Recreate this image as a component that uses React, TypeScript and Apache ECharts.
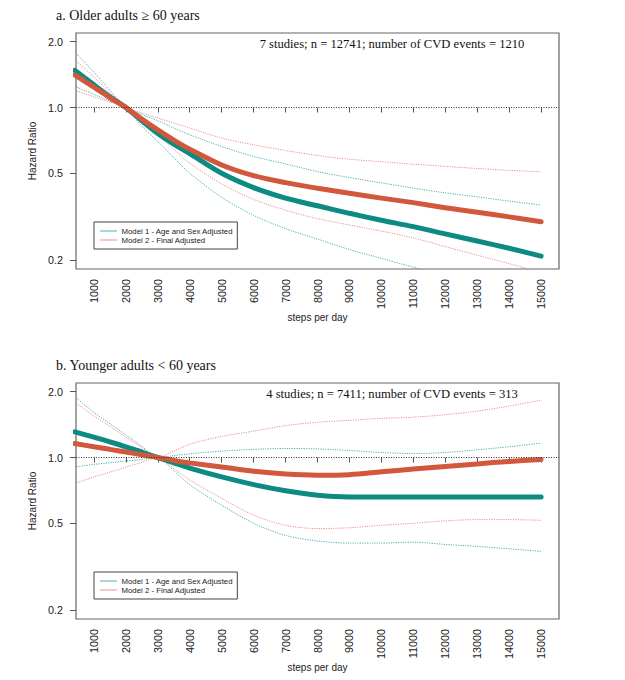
import React, { useEffect, useRef } from "react";
import * as echarts from "echarts";

// steps per day at which the curves are sampled
const STEPS = [400, 1000, 1500, 2000, 2500, 3000, 3500, 4000, 5000, 6000, 7000, 8000, 9000, 10000, 11000, 12000, 13000, 14000, 15000];

// a. Older adults >= 60 years (hazard ratios)
const olderM1 = [1.48, 1.27, 1.12, 1.0, 0.87, 0.76, 0.68, 0.615, 0.5, 0.43, 0.385, 0.355, 0.328, 0.305, 0.285, 0.264, 0.245, 0.227, 0.209];
const olderM1Upper = [1.8, 1.45, 1.2, 1.0, 0.93, 0.87, 0.805, 0.75, 0.663, 0.597, 0.552, 0.509, 0.478, 0.452, 0.428, 0.407, 0.39, 0.373, 0.358];
const olderM1Lower = [1.25, 1.15, 1.07, 1.0, 0.82, 0.7, 0.59, 0.5, 0.388, 0.321, 0.279, 0.25, 0.224, 0.204, 0.186, 0.17, 0.156, 0.145, 0.135];
const olderM2 = [1.41, 1.24, 1.11, 1.0, 0.885, 0.79, 0.71, 0.645, 0.546, 0.488, 0.453, 0.427, 0.405, 0.385, 0.367, 0.348, 0.332, 0.316, 0.3];
const olderM2Upper = [1.66, 1.38, 1.17, 1.0, 0.945, 0.895, 0.85, 0.806, 0.725, 0.675, 0.636, 0.603, 0.58, 0.565, 0.55, 0.538, 0.526, 0.516, 0.508];
const olderM2Lower = [1.2, 1.12, 1.06, 1.0, 0.855, 0.745, 0.645, 0.556, 0.447, 0.38, 0.339, 0.31, 0.29, 0.272, 0.253, 0.231, 0.211, 0.193, 0.176];

// b. Younger adults < 60 years (hazard ratios)
const youngerM1 = [1.31, 1.24, 1.18, 1.12, 1.06, 1.0, 0.946, 0.895, 0.815, 0.752, 0.705, 0.672, 0.66, 0.66, 0.66, 0.66, 0.66, 0.66, 0.66];
const youngerM1Upper = [1.9, 1.61, 1.43, 1.27, 1.125, 1.0, 1.02, 1.04, 1.07, 1.09, 1.1, 1.095, 1.077, 1.054, 1.043, 1.054, 1.085, 1.12, 1.165];
const youngerM1Lower = [0.905, 0.93, 0.946, 0.964, 0.98, 1.0, 0.87, 0.75, 0.605, 0.5, 0.44, 0.415, 0.406, 0.406, 0.41, 0.4, 0.392, 0.382, 0.372];
const youngerM2 = [1.16, 1.12, 1.09, 1.06, 1.03, 1.0, 0.97, 0.945, 0.905, 0.865, 0.84, 0.83, 0.835, 0.86, 0.885, 0.91, 0.935, 0.96, 0.98];
const youngerM2Upper = [1.79, 1.55, 1.39, 1.24, 1.11, 1.0, 1.07, 1.15, 1.25, 1.32, 1.4, 1.45, 1.48, 1.51, 1.53, 1.57, 1.63, 1.72, 1.83];
const youngerM2Lower = [0.76, 0.815, 0.857, 0.903, 0.95, 1.0, 0.89, 0.79, 0.65, 0.545, 0.49, 0.473, 0.477, 0.49, 0.5, 0.513, 0.52, 0.52, 0.516];

const X_TICKS = [1000, 2000, 3000, 4000, 5000, 6000, 7000, 8000, 9000, 10000, 11000, 12000, 13000, 14000, 15000];
const Y_TICKS = [0.2, 0.5, 1.0, 2.0];

const M1 = "Model 1 - Age and Sex Adjusted";
const M2 = "Model 2 - Final Adjusted";
const TITLES = ["a. Older adults \u2265 60 years", "b. Younger adults < 60 years"];
const NOTES = [
  "7 studies; n = 12741; number of CVD events = 1210",
  "4 studies; n = 7411; number of CVD events = 313",
];

const TEAL = "#0d8a81";
const RED = "#d1573d";
const TEAL_CI = "#4db3ab";
const RED_CI = "#ec8f8f";

const SANS = "'Liberation Sans', Arial, sans-serif";
const SERIF = "'Liberation Serif', 'Times New Roman', serif";

const toLog = (vals: number[]) => vals.map((v, i) => [STEPS[i], Math.log10(v)]);

const PANEL_TOP = [33, 383];

export default function App() {
  const ref = useRef<HTMLDivElement>(null);

  useEffect(() => {
    if (!ref.current) return;
    const chart = echarts.init(ref.current, undefined, { renderer: "svg" });

    const panels = [
      { m1: olderM1, m1u: olderM1Upper, m1l: olderM1Lower, m2: olderM2, m2u: olderM2Upper, m2l: olderM2Lower },
      { m1: youngerM1, m1u: youngerM1Upper, m1l: youngerM1Lower, m2: youngerM2, m2u: youngerM2Upper, m2l: youngerM2Lower },
    ];

    const yMin = Math.log10(0.2) - 0.04;
    const yMax = Math.log10(2.0) + 0.04;
    const yTickVals = Y_TICKS.map((v) => Math.log10(v));

    const grids = PANEL_TOP.map((top) => ({
      left: 76,
      top,
      width: 483,
      height: 236,
      show: true,
      borderColor: "#666",
      borderWidth: 1.2,
      backgroundColor: "transparent",
    }));

    const xAxes = PANEL_TOP.map((_, i) => ({
      type: "value",
      gridIndex: i,
      min: 440,
      max: 15560,
      name: "steps per day",
      nameLocation: "middle",
      nameGap: 39,
      nameTextStyle: { fontSize: 10, color: "#222", fontFamily: SANS },
      axisLine: { show: false },
      axisTick: { show: true, length: 5, customValues: X_TICKS, lineStyle: { color: "#555", width: 1 } },
      axisLabel: {
        customValues: X_TICKS,
        rotate: 90,
        margin: 10,
        fontSize: 10.8,
        color: "#222",
        fontFamily: SANS,
        formatter: (v: number) => String(Math.round(v)),
      },
      splitLine: { show: false },
    }));

    const yAxes = PANEL_TOP.map((_, i) => ({
      type: "value",
      gridIndex: i,
      min: yMin,
      max: yMax,
      name: "Hazard Ratio",
      nameLocation: "middle",
      nameGap: 38,
      nameTextStyle: { fontSize: 10, color: "#222", fontFamily: SANS },
      axisLine: { show: false },
      axisTick: { show: true, length: 6, customValues: yTickVals, lineStyle: { color: "#555", width: 1 } },
      axisLabel: {
        customValues: yTickVals,
        margin: 13,
        fontSize: 10.8,
        color: "#222",
        fontFamily: SANS,
        formatter: (v: number) => Math.pow(10, v).toFixed(1),
      },
      splitLine: { show: false },
    }));

    const series: any[] = [];
    panels.forEach((p, i) => {
      const ci = (name: string, vals: number[], color: string) => ({
        type: "line",
        name,
        xAxisIndex: i,
        yAxisIndex: i,
        data: toLog(vals),
        symbol: "none",
        smooth: 0.3,
        clip: true,
        silent: true,
        z: 2,
        lineStyle: { color, width: 1, type: [1.2, 1.2] },
      });
      series.push(ci(`${M1} upper CI ${i}`, p.m1u, TEAL_CI));
      series.push(ci(`${M1} lower CI ${i}`, p.m1l, TEAL_CI));
      series.push(ci(`${M2} upper CI ${i}`, p.m2u, RED_CI));
      series.push(ci(`${M2} lower CI ${i}`, p.m2l, RED_CI));
      series.push({
        type: "line",
        name: M1,
        xAxisIndex: i,
        yAxisIndex: i,
        data: toLog(p.m1),
        symbol: "none",
        smooth: 0.3,
        clip: true,
        z: 3,
        lineStyle: { color: TEAL, width: 5, cap: "round" },
        itemStyle: { color: TEAL },
        markLine: {
          silent: true,
          symbol: ["none", "none"],
          label: { show: false },
          lineStyle: { color: "#333", width: 1, type: [1, 1.5] },
          data: [{ yAxis: 0 }],
        },
      });
      series.push({
        type: "line",
        name: M2,
        xAxisIndex: i,
        yAxisIndex: i,
        data: toLog(p.m2),
        symbol: "none",
        smooth: 0.3,
        clip: true,
        z: 4,
        lineStyle: { color: RED, width: 5, cap: "round" },
        itemStyle: { color: RED },
      });
    });

    const legends = PANEL_TOP.map((top) => ({
      left: 94,
      top: top + 189,
      orient: "vertical",
      selectedMode: false,
      borderColor: "#444",
      borderWidth: 1,
      padding: [5, 4, 5, 6],
      itemGap: 1,
      itemWidth: 16,
      itemHeight: 8,
      textStyle: { fontSize: 7.8, color: "#222", fontFamily: SANS },
      data: [
        { name: M1, lineStyle: { color: TEAL_CI, width: 1 }, itemStyle: { opacity: 0 } },
        { name: M2, lineStyle: { color: RED_CI, width: 1 }, itemStyle: { opacity: 0 } },
      ],
    }));

    const graphics: any[] = [];
    PANEL_TOP.forEach((top, i) => {
      graphics.push({
        type: "text",
        left: 56,
        top: top - 25,
        style: { text: TITLES[i], font: `14px ${SERIF}`, fill: "#111" },
      });
      graphics.push({
        type: "text",
        x: 392,
        y: top + 11,
        style: {
          text: NOTES[i],
          font: `12.6px ${SERIF}`,
          fill: "#111",
          textAlign: "center",
          textVerticalAlign: "middle",
        },
      });
    });

    chart.setOption({
      animation: false,
      backgroundColor: "#ffffff",
      textStyle: { fontFamily: SANS },
      grid: grids,
      xAxis: xAxes,
      yAxis: yAxes,
      legend: legends,
      series,
      graphic: graphics,
    });

    return () => chart.dispose();
  }, []);

  return (
    <div
      ref={ref}
      style={{ position: "fixed", left: 0, top: 0, width: 625, height: 680, background: "#fff" }}
    />
  );
}
